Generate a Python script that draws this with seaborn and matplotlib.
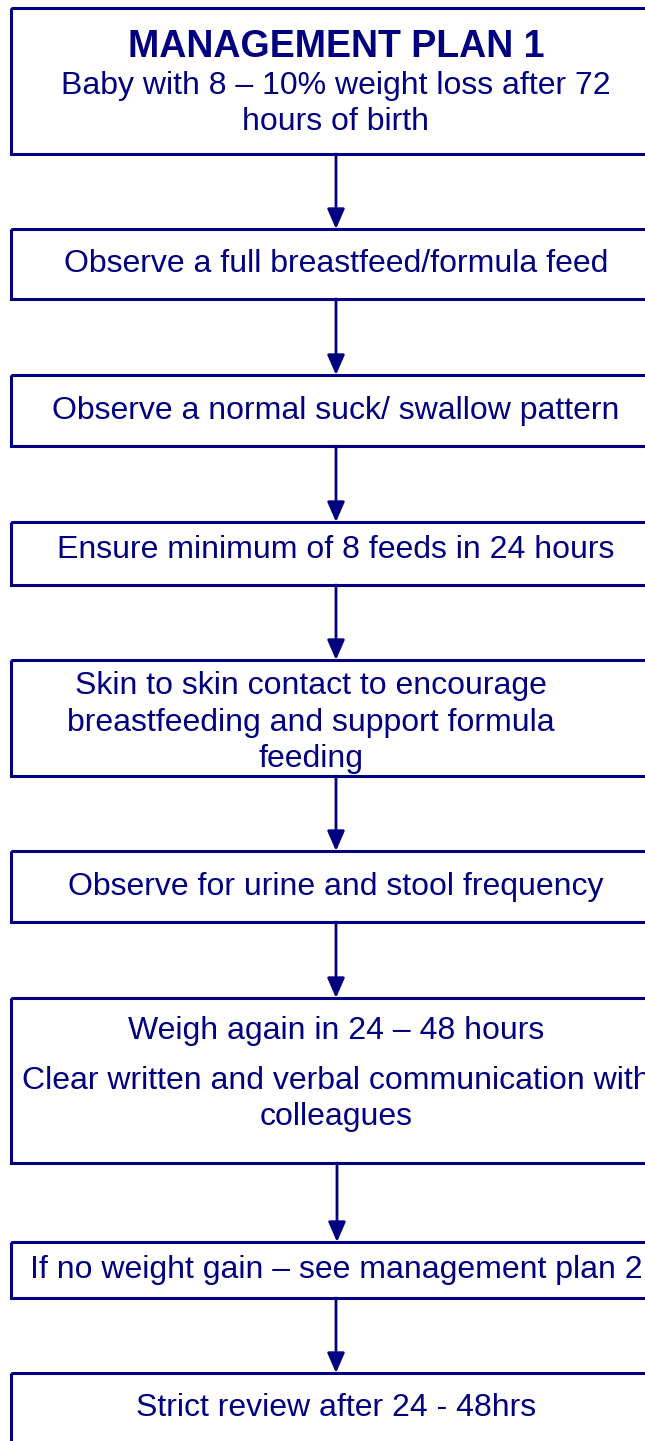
import matplotlib
matplotlib.use("Agg")
import matplotlib.pyplot as plt
from matplotlib.patches import Rectangle
import seaborn as sns

# flowchart steps (text lines per box)
steps = [
    ["MANAGEMENT PLAN 1", "Baby with 8 – 10% weight loss after 72", "hours of birth"],
    ["Observe a full breastfeed/formula feed"],
    ["Observe a normal suck/ swallow pattern"],
    ["Ensure minimum of 8 feeds in 24 hours"],
    ["Skin to skin contact to encourage", "breastfeeding and support formula", "feeding"],
    ["Observe for urine and stool frequency"],
    ["Weigh again in 24 – 48 hours", "Clear written and verbal communication with", "colleagues"],
    ["If no weight gain – see management plan 2"],
    ["Strict review after 24 - 48hrs"],
]

# box extents (pixel rows of the page)
box_top = [8, 229, 375, 522, 660, 851, 998, 1242, 1373]
box_bottom = [154, 299, 446, 585, 776, 922, 1163, 1298, 1460]

# text baselines per box
line_y = [
    [57, 94, 130],
    [272],
    [419],
    [558],
    [694, 731, 767],
    [895],
    [1039, 1089, 1125],
    [1278],
    [1416],
]
text_x = [336, 336, 336, 336, 311, 336, 336, 336, 336]
arrow_x = [336, 336, 336, 336, 336, 336, 337, 336]

NAVY = "#000080"

sns.set_theme(style="white")
plt.rcParams["font.family"] = ["Liberation Sans", "DejaVu Sans"]

W, H = 645, 1441
fig = plt.figure(figsize=(W / 100, H / 100), dpi=100)
ax = fig.add_axes([0, 0, 1, 1])
ax.set_xlim(0, W)
ax.set_ylim(H, 0)
ax.axis("off")

for i, lines in enumerate(steps):
    ax.add_patch(Rectangle((11, box_top[i]), 700, box_bottom[i] - box_top[i],
                           fill=False, edgecolor=NAVY, linewidth=2.2))
    for j, line in enumerate(lines):
        bold = (i == 0 and j == 0)
        ax.text(text_x[i], line_y[i][j], line, ha="center", va="baseline",
                color=NAVY, fontsize=27 if bold else 23,
                fontweight="bold" if bold else "normal")

for i, x in enumerate(arrow_x):
    ax.annotate("", xy=(x, box_top[i + 1]), xytext=(x, box_bottom[i]),
                arrowprops=dict(arrowstyle="-|>,head_length=0.55,head_width=0.24",
                                color=NAVY, lw=2, mutation_scale=22,
                                shrinkA=0, shrinkB=0))

fig.savefig("out.png", dpi=100)
plt.close(fig)
